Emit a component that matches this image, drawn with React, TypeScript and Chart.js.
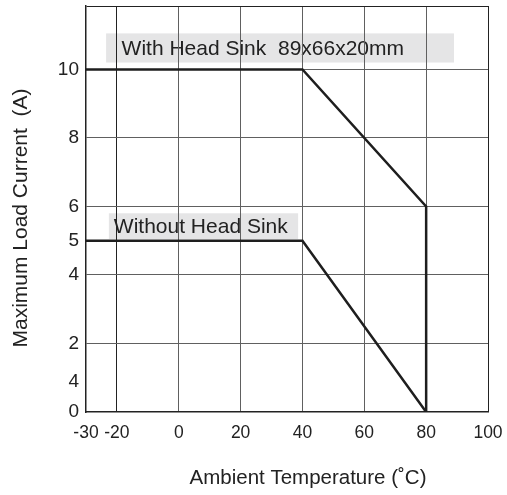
import React, { useEffect, useRef } from "react";
import { Chart, registerables } from "chart.js";

Chart.register(...registerables);

// ---- data ----
const tempWithSink = [-30, 40, 80, 80];
const currentWithSink = [10, 10, 6, 0];
const tempWithoutSink = [-30, 40, 80];
const currentWithoutSink = [5, 5, 0];

const xTickValues = [-30, -20, 0, 20, 40, 60, 80, 100];
const xGridValues = [-20, 0, 20, 40, 60, 80];
const yTickValues = [0, 0.88, 2, 4, 5, 6, 8, 10];
const yTickLabels = ["0", "4", "2", "4", "5", "6", "8", "10"];
const yGridValues = [2, 4, 6, 8, 10];

const xTitle = "Ambient Temperature (˚C)";
const yTitle = "Maximum Load Current  (A)";
const labelWith = "With Head Sink  89x66x20mm";
const labelWithout = "Without Head Sink";

const X_MIN = -30;
const X_MAX = 100;
const Y_MIN = 0;
const Y_MAX = 11.85;

// label boxes (data coordinates)
const boxes = [
  { text: labelWith, x0: -23.5, x1: 89, y0: 10.2, y1: 11.05, textX: -18.5 },
  { text: labelWithout, x0: -22.6, x1: 38.6, y0: 5.05, y1: 5.8, textX: -21.0 },
];

const FONT = "'Liberation Sans', Arial, sans-serif";
const TEXT = "#222";

export default function App() {
  const ref = useRef<HTMLCanvasElement | null>(null);

  useEffect(() => {
    if (!ref.current) return;

    const boxPlugin = {
      id: "boxes",
      beforeDraw(chart: any) {
        const { ctx, scales } = chart;
        const xs = scales.x;
        const ys = scales.y;
        ctx.save();
        for (const b of boxes) {
          const px0 = xs.getPixelForValue(b.x0);
          const px1 = xs.getPixelForValue(b.x1);
          const py0 = ys.getPixelForValue(b.y1);
          const py1 = ys.getPixelForValue(b.y0);
          ctx.fillStyle = "#e5e5e6";
          ctx.fillRect(px0, py0, px1 - px0, py1 - py0);
          ctx.fillStyle = TEXT;
          ctx.font = `21px ${FONT}`;
          ctx.textBaseline = "middle";
          ctx.textAlign = "left";
          ctx.fillText(b.text, xs.getPixelForValue(b.textX), (py0 + py1) / 2 + 1);
        }
        ctx.restore();
      },
      afterDraw(chart: any) {
        const { ctx } = chart;
        ctx.save();
        ctx.fillStyle = TEXT;
        ctx.font = `20.5px ${FONT}`;
        ctx.textBaseline = "middle";
        ctx.textAlign = "center";
        ctx.fillText(xTitle, 308, 478);
        ctx.translate(21, 218);
        ctx.rotate(-Math.PI / 2);
        ctx.font = `21px ${FONT}`;
        ctx.fillText(yTitle, 0, 0);
        ctx.restore();
      },
    };

    const zeroPad = (scale: any) => {
      scale.paddingTop = 0;
      scale.paddingBottom = 0;
      scale.paddingLeft = 0;
      scale.paddingRight = 0;
    };

    const chart = new Chart(ref.current, {
      type: "line",
      data: {
        datasets: [
          {
            label: "With Head Sink",
            data: tempWithSink.map((t, i) => ({ x: t, y: currentWithSink[i] })),
            borderColor: "#1e1e1e",
            borderWidth: 2.5,
            pointRadius: 0,
            tension: 0,
            fill: false,
          },
          {
            label: "Without Head Sink",
            data: tempWithoutSink.map((t, i) => ({ x: t, y: currentWithoutSink[i] })),
            borderColor: "#1e1e1e",
            borderWidth: 2.5,
            pointRadius: 0,
            tension: 0,
            fill: false,
          },
        ],
      },
      options: {
        animation: false,
        responsive: false,
        maintainAspectRatio: false,
        devicePixelRatio: 1,
        layout: { padding: { top: 6, right: 19, left: 0, bottom: 0 }, autoPadding: false },
        plugins: {
          legend: { display: false },
          tooltip: { enabled: false },
          title: { display: false },
        },
        scales: {
          x: {
            type: "linear",
            min: X_MIN,
            max: X_MAX,
            afterBuildTicks: (scale: any) => {
              scale.ticks = xTickValues.map((v) => ({ value: v }));
            },
            afterFit: (scale: any) => {
              scale.height = 83;
              zeroPad(scale);
            },
            ticks: {
              autoSkip: false,
              maxRotation: 0,
              padding: 11,
              color: TEXT,
              font: { family: FONT, size: 17.5 },
              callback: (v: any) => String(v),
            },
            grid: {
              drawTicks: false,
              lineWidth: 1,
              color: (c: any) => {
                const v = c.tick ? c.tick.value : null;
                if (v === X_MAX || v === -20) return "#222";
                return xGridValues.includes(v) ? "#606060" : "rgba(0,0,0,0)";
              },
            },
            border: { display: true, color: "#222", width: 1.5 },
          },
          y: {
            type: "linear",
            min: Y_MIN,
            max: Y_MAX,
            afterBuildTicks: (scale: any) => {
              scale.ticks = [...yTickValues, Y_MAX].map((v) => ({ value: v }));
            },
            afterFit: (scale: any) => {
              scale.width = 86;
              zeroPad(scale);
            },
            ticks: {
              autoSkip: false,
              padding: 7,
              color: TEXT,
              font: { family: FONT, size: 19 },
              callback: (v: any) => {
                const i = yTickValues.indexOf(Number(v));
                return i >= 0 ? yTickLabels[i] : "";
              },
            },
            grid: {
              drawTicks: false,
              lineWidth: 1,
              color: (c: any) => {
                const v = c.tick ? c.tick.value : null;
                if (v === Y_MAX) return "#222";
                return yGridValues.includes(v) ? "#606060" : "rgba(0,0,0,0)";
              },
            },
            border: { display: true, color: "#222", width: 1.5 },
          },
        },
      },
      plugins: [boxPlugin],
    });

    return () => chart.destroy();
  }, []);

  return (
    <div style={{ position: "absolute", left: 0, top: 0, width: 507, height: 495, background: "#fff" }}>
      <canvas ref={ref} width={507} height={495} style={{ width: 507, height: 495, display: "block" }} />
    </div>
  );
}
